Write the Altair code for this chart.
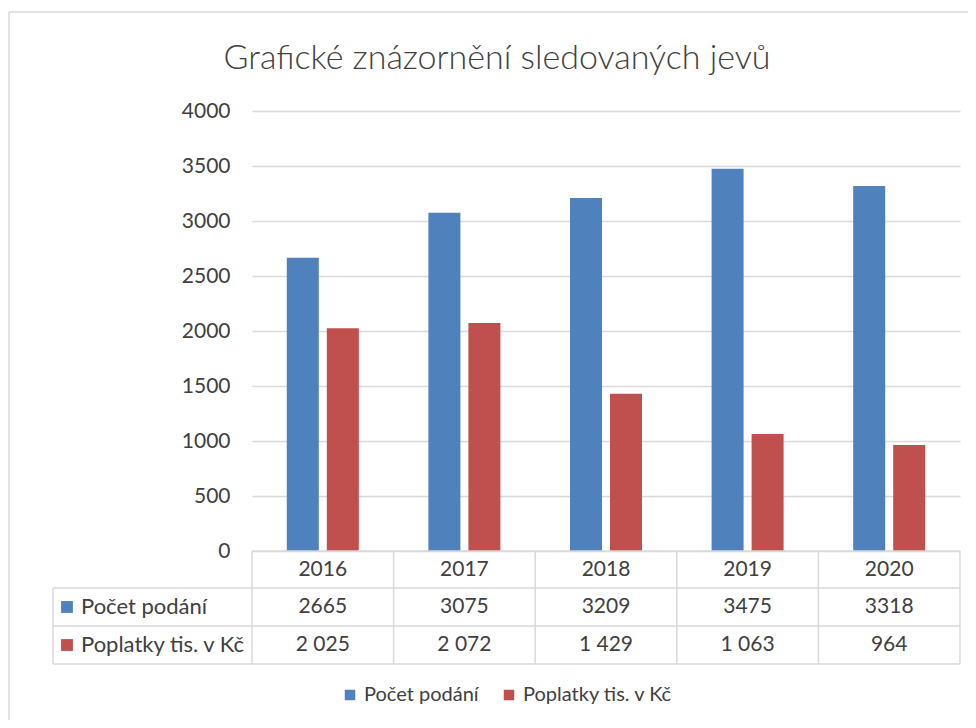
import altair as alt
import pandas as pd

years = ["2016", "2017", "2018", "2019", "2020"]
series = ["Počet podání", "Poplatky tis. v Kč"]
pocet = [2665, 3075, 3209, 3475, 3318]
poplatky = [2025, 2072, 1429, 1063, 964]
colors = ["#4F81BD", "#C0504D"]
title_text = "Grafické znázornění sledovaných jevů"

W, H = 708, 440
FONT = "Lato"
GRID = "#d9d9d9"
TXT = "#404040"
FS = 21

rows = []
for i, y in enumerate(years):
    rows.append({"year": y, "series": series[0], "value": pocet[i]})
    rows.append({"year": y, "series": series[1], "value": poplatky[i]})
bars_df = pd.DataFrame(rows)

tab1 = pd.DataFrame({"year": years, "label": [str(v) for v in pocet]})
tab2 = pd.DataFrame({"year": years, "label": [f"{v:,}".replace(",", " ") for v in poplatky]})

xenc = alt.X("year:N", sort=years,
             scale=alt.Scale(paddingInner=0.4915, paddingOuter=0.24575),
             axis=alt.Axis(title=None, domain=False, ticks=False, labelAngle=0,
                           labelFontSize=FS, labelColor=TXT, labelFont=FONT,
                           labelPadding=7))

bars = alt.Chart(bars_df).mark_bar().encode(
    x=xenc,
    xOffset=alt.XOffset("series:N", sort=series,
                        scale=alt.Scale(paddingInner=0.2, paddingOuter=0)),
    y=alt.Y("value:Q", scale=alt.Scale(domain=[0, 4000]),
            axis=alt.Axis(title=None, domain=False, ticks=False, values=list(range(0, 4001, 500)),
                          format="d",
                          labelFontSize=FS, labelColor=TXT, labelFont=FONT, labelPadding=22,
                          gridColor=GRID, gridWidth=1.5)),
    color=alt.Color("series:N", sort=series,
                    scale=alt.Scale(domain=series, range=colors),
                    legend=alt.Legend(title=None, orient="none", legendX=88, legendY=574,
                                      direction="horizontal", symbolType="square",
                                      symbolSize=110, symbolStrokeWidth=0,
                                      labelFontSize=20, labelFont=FONT, labelColor=TXT,
                                      columnPadding=20, labelOffset=4)),
)

ROW1_Y, ROW2_Y = 496, 534

t1 = alt.Chart(tab1).mark_text(fontSize=FS, font=FONT, color=TXT).encode(
    x=alt.X("year:N", sort=years), y=alt.value(ROW1_Y), text="label:N")
t2 = alt.Chart(tab2).mark_text(fontSize=FS, font=FONT, color=TXT).encode(
    x=alt.X("year:N", sort=years), y=alt.value(ROW2_Y), text="label:N")

hdr = []
for name, yy in zip(series, [ROW1_Y, ROW2_Y]):
    hdr.append(alt.Chart().mark_square(size=140, opacity=1).encode(
        x=alt.value(-185), y=alt.value(yy), color=alt.datum(name)))
    hdr.append(alt.Chart().mark_text(align="left", baseline="middle", fontSize=22,
                                     font=FONT, color=TXT, text=name).encode(
        x=alt.value(-171), y=alt.value(yy)))

title = alt.Chart().mark_text(align="center", baseline="middle", fontSize=34,
                              font=FONT, fontWeight=300, color=TXT, text=title_text).encode(
    x=alt.value(245), y=alt.value(-52))


def rule(x1, x2, y1, y2):
    return alt.Chart().mark_rule(color=GRID, strokeWidth=1.5).encode(
        x=alt.value(x1), x2=alt.value(x2), y=alt.value(y1), y2=alt.value(y2))


TL = -199  # left edge of row header column
rules = [
    rule(0, W, H, H),
    rule(TL, W, 477, 477),
    rule(TL, W, 515, 515),
    rule(TL, W, 553, 553),
    rule(TL, TL, 477, 553),
]
col_w = W / len(years)
for k in range(len(years) + 1):
    rules.append(rule(k * col_w, k * col_w, H, 553))

# outer chart border (partially visible)
rules.append(rule(-243, 720, -99, -99))
rules.append(rule(-243, -243, -99, 620))

chart = alt.layer(bars, t1, t2, *hdr, title, *rules).properties(
    width=W, height=H,
    autosize=alt.AutoSizeParams(type="none"),
    padding={"left": 244, "top": 103, "right": 8, "bottom": 169},
).configure(background="white",
            view=alt.ViewConfig(stroke="transparent", strokeWidth=0))

chart.save("out.html", embed_options={"renderer": "svg", "actions": False})
